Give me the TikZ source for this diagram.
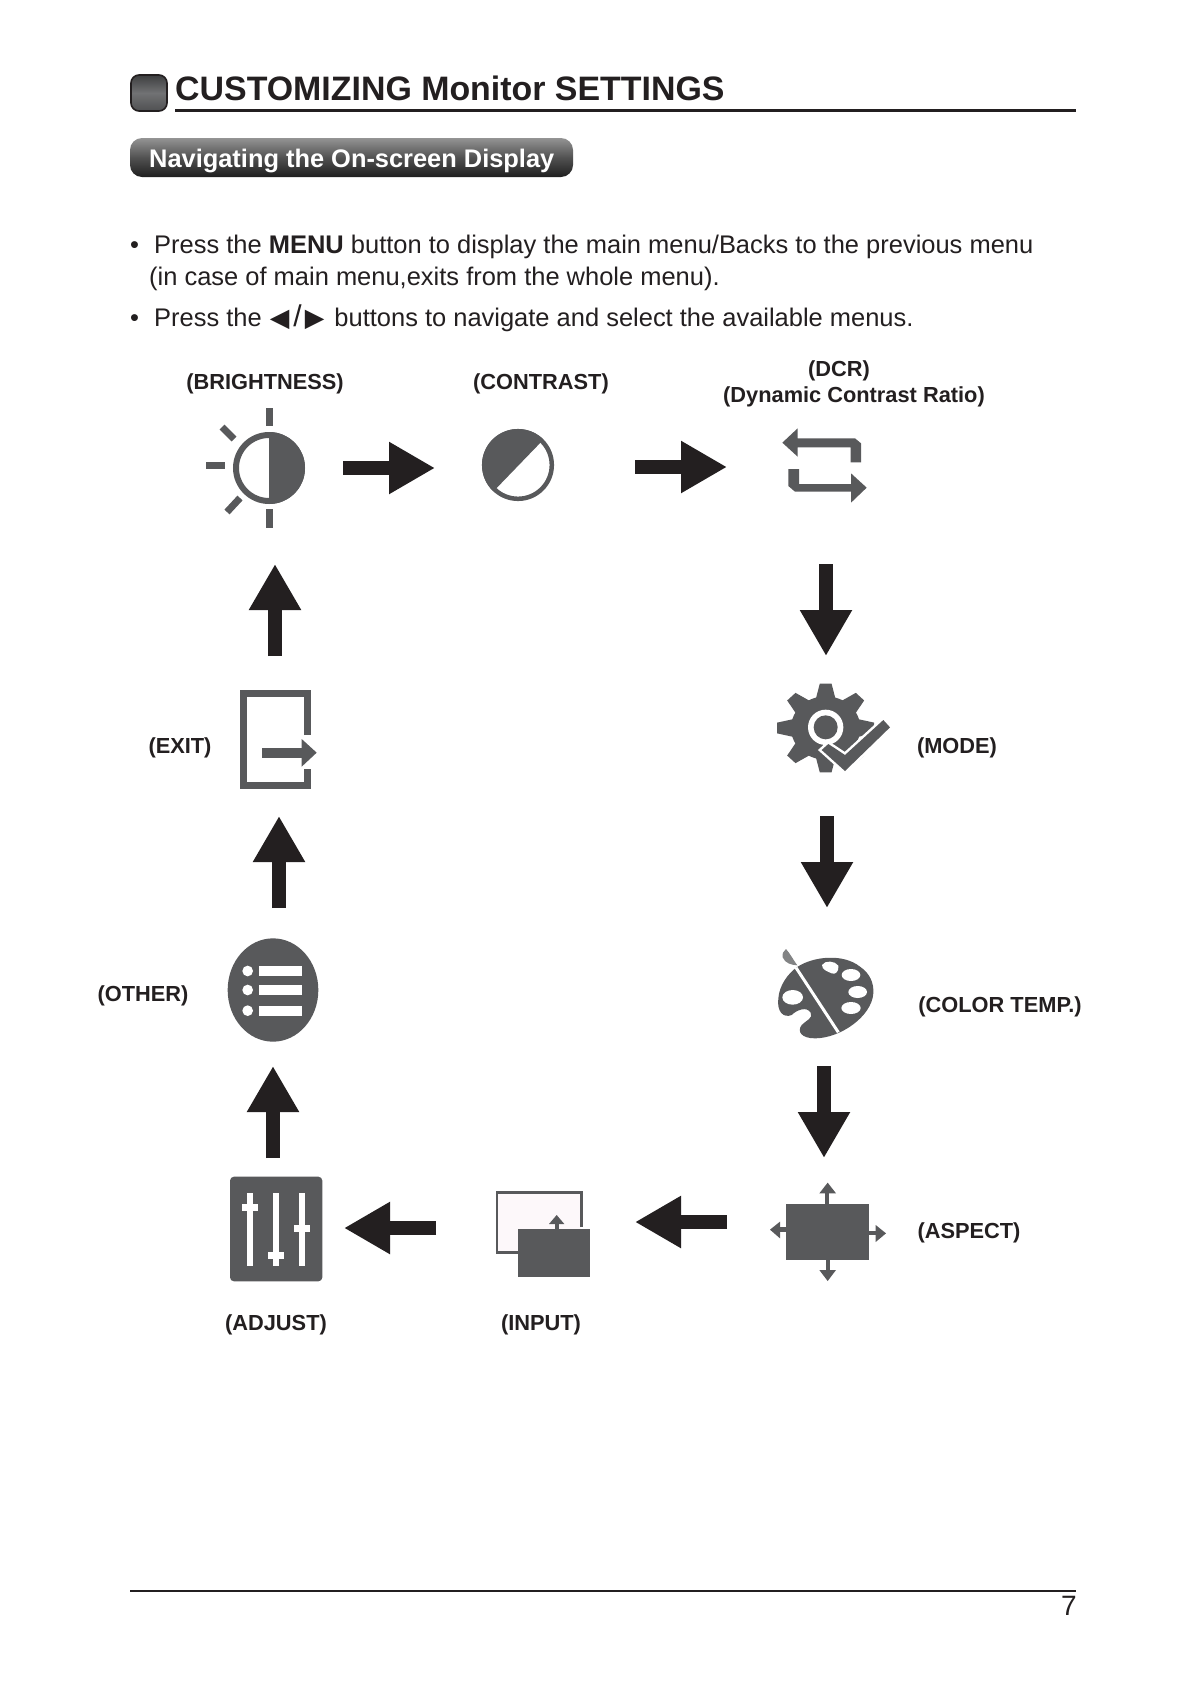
\documentclass[tikz,border=0pt]{standalone}
\usepackage{fontspec}
\setmainfont{Liberation Sans}
\newfontfamily\symfont{DejaVu Sans}
\usetikzlibrary{arrows.meta}
\definecolor{ink}{HTML}{231F20}
\definecolor{icon}{HTML}{58595B}
\definecolor{faint}{HTML}{FDF8FA}
\tikzset{
  blockarrow/.style={draw=ink,line width=14pt,-{Triangle[length=46pt,width=49pt]}},
  zoomed/.style 2 args={shift={(#1,#2)},scale=1/3},
  body/.style={anchor=base west,inner sep=0pt,text=ink,font=\fontsize{25.47}{30}\selectfont},
  lab/.style={inner sep=0pt,text=ink,font=\fontsize{21.8}{26}\selectfont\bfseries},
  iconfill/.style={fill=icon,draw=none},
  hole/.style={fill=white,draw=none}
}
\begin{document}
\begin{tikzpicture}[x=1pt,y=-1pt]
\useasboundingbox[fill=white] (0,0) rectangle (1190,1684);
% header
\draw[draw=ink,line width=1.6pt,rounded corners=8pt,top color=icon!70!black,bottom color=icon!90!black,middle color=icon!85!white] (131,75) rectangle (167,111);
\node[anchor=base west,inner sep=0pt,text=ink,font=\fontsize{33.9}{38}\selectfont\bfseries] (title) at (175,100) {CUSTOMIZING Monitor SETTINGS};
\coordinate (ruleA) at (175,110);
\coordinate (ruleB) at (1076,110);
\draw[ink,line width=3pt] (ruleA) -- (ruleB);
\shade[rounded corners=12pt,top color=black!42,bottom color=black!88,middle color=black!68] (130,138) rectangle (573,177);
\node[anchor=base west,inner sep=0pt,text=white,font=\fontsize{25.4}{28}\selectfont\bfseries] (sub) at (149,167) {Navigating the On-screen Display};
% body text
\node[body] (b1) at (130,253) {•};
\node[body] (t1) at (154,253) {Press the \textbf{MENU} button to display the main menu/Backs to the previous menu};
\node[body] (t2) at (149,285) {(in case of main menu,exits from the whole menu).};
\node[body] (b2) at (130,326) {•};
\node[body] (t3) at (154,326) {Press the \kern1pt{\symfont ◀}\kern4pt{\fontsize{30}{30}\selectfont/}\kern3pt{\symfont ▶}\kern3pt{} buttons to navigate and select the available menus.};
% labels
\node[lab] (lBright) at (265,384) {(BRIGHTNESS)};
\node[lab] (lContrast) at (541,384) {(CONTRAST)};
\node[lab] (lDcr) at (839,371) {(DCR)};
\node[lab] (lDyn) at (854,397) {(Dynamic Contrast Ratio)};
\node[lab] (lExit) at (180,748) {(EXIT)};
\node[lab] (lMode) at (957,748) {(MODE)};
\node[lab] (lOther) at (143,996) {(OTHER)};
\node[lab] (lColor) at (1000,1007) {(COLOR TEMP.)};
\node[lab] (lAspect) at (969,1233) {(ASPECT)};
\node[lab] (lAdjust) at (276,1325) {(ADJUST)};
\node[lab] (lInput) at (541,1325) {(INPUT)};
% block arrows
\coordinate (a1s) at (343,468); \coordinate (a1e) at (435,468);
\coordinate (a2s) at (635,467); \coordinate (a2e) at (727,467);
\coordinate (a3s) at (826,564); \coordinate (a3e) at (826,656);
\coordinate (a4s) at (827,816); \coordinate (a4e) at (827,908);
\coordinate (a5s) at (824,1066); \coordinate (a5e) at (824,1158);
\coordinate (a6s) at (727,1222); \coordinate (a6e) at (635,1222);
\coordinate (a7s) at (436,1228); \coordinate (a7e) at (344,1228);
\coordinate (a8s) at (273,1158); \coordinate (a8e) at (273,1066);
\coordinate (a9s) at (279,908); \coordinate (a9e) at (279,816);
\coordinate (a10s) at (275,656); \coordinate (a10e) at (275,564);
\foreach \n in {1,...,10} \draw[blockarrow] (a\n s) -- (a\n e);
% brightness
\draw[icon,line width=6pt] (269,468) circle (33);
\fill[icon] (269,432) arc (-90:90:36) -- cycle;
\fill[icon] (266,408) rectangle (273,426);
\fill[icon] (266,509) rectangle (273,528);
\fill[icon] (206,461.5) rectangle (225,468.5);
\draw[icon,line width=7pt] (222,427) -- (234,439);
\draw[icon,line width=7pt] (227,512) -- (240,498);
% contrast
\draw[icon,line width=4.5pt] (518,465) circle (33.8);
\fill[icon] (518,465) ++(133:36) arc (133:315:36) -- cycle;
% DCR
\begin{scope}[zoomed={760}{410}]
\fill[icon] (67,98) -- (113,55) -- (113,85) -- (285,85) -- (303,100) -- (303,157) -- (272,157) -- (272,112) -- (113,112) -- (113,140) -- cycle;
\fill[icon] (85,177) -- (117,177) -- (117,222) -- (273,222) -- (273,190) -- (320,233) -- (273,278) -- (273,245) -- (105,245) -- (85,228) -- cycle;
\end{scope}
% mode
\begin{scope}[zoomed={760}{670}]
\begin{scope}[shift={(197,174)},xscale=1.04,yscale=.95]
\fill[icon] (0,0) circle (100);
\foreach \a in {0,45,...,315}
  \fill[icon,rotate=\a] (85,-30) -- (140,-17) -- (140,17) -- (85,30) -- cycle;
\end{scope}
\fill[hole] (197,172) circle (53);
\fill[icon] (197,172) circle (36);
\draw[white,line width=5pt,line join=miter] (185,240) -- (205,222) -- (255,255) -- (370,150) -- (390,172) -- (255,303) -- cycle;
\fill[icon] (185,240) -- (205,222) -- (255,255) -- (370,150) -- (390,172) -- (255,303) -- cycle;
\end{scope}
% colour temp
\begin{scope}[zoomed={760}{930}]
\fill[icon] (110,112) .. controls (160,78) and (250,70) .. (300,110) .. controls (330,130) and (342,160) .. (340,190) .. controls (335,260) and (240,325) .. (165,325) .. controls (125,325) and (110,305) .. (125,285) .. controls (140,270) and (160,265) .. (152,248) .. controls (140,228) and (110,240) .. (95,255) .. controls (70,265) and (50,245) .. (55,205) .. controls (58,165) and (85,130) .. (110,112) -- cycle;
\fill[icon!75!white] (78,57) .. controls (90,70) and (100,90) .. (112,106) .. controls (95,105) and (75,100) .. (68,82) .. controls (66,72) and (70,62) .. (78,57) -- cycle;
\draw[white,line width=3pt] (108,113) -- (235,307);
\fill[hole] (186,105) .. controls (195,90) and (225,92) .. (235,107) .. controls (238,125) and (225,135) .. (215,130) .. controls (205,125) and (185,120) .. (186,105) -- cycle;
\fill[hole] (273,135) ellipse (28 and 18);
\fill[hole] (293,186) ellipse (28 and 18);
\fill[hole] (273,234) ellipse (29 and 18);
\fill[hole] (98,202) ellipse (31 and 22);
\end{scope}
% aspect
\begin{scope}[zoomed={760}{1170}]
\fill[icon] (78,102) rectangle (327,269);
\fill[icon] (195,102) rectangle (208,70);
\fill[icon] (178,70) -- (203,38) -- (228,70) -- cycle;
\fill[icon] (60,172) rectangle (78,185);
\fill[icon] (60,155) -- (30,179) -- (60,205) -- cycle;
\fill[icon] (327,182) rectangle (347,195);
\fill[icon] (347,165) -- (378,190) -- (347,216) -- cycle;
\fill[icon] (197,269) rectangle (211,300);
\fill[icon] (178,300) -- (203,333) -- (228,300) -- cycle;
\end{scope}
% input + adjust
\begin{scope}[zoomed={220}{1170}]
\fill[icon,rounded corners=4pt] (30,20) rectangle (307,334);
\foreach \x in {80,158,236} \fill[white] (\x,68) rectangle (\x+19,288);
\fill[white] (66,102) rectangle (114,124);
\fill[white] (144,245) rectangle (192,267);
\fill[white] (222,164) rectangle (270,186);
\fill[faint] (831,67) rectangle (1084,248);
\draw[icon,line width=2.4pt] (893,248) -- (831,248) -- (831,67) -- (1084,67) -- (1084,172);
\fill[icon] (893,177) rectangle (1110,320);
\fill[icon] (1004,177) rectangle (1017,160);
\fill[icon] (987,162) -- (1010,135) -- (1033,162) -- cycle;
\end{scope}
% other
\begin{scope}[zoomed={215}{930}]
\fill[icon] (174,180) ellipse (136 and 155);
\foreach \y in {123,180,242} \fill[white] (98,\y) circle (16);
\fill[white] (132,108) rectangle (261,138);
\fill[white] (132,164) rectangle (261,195);
\fill[white] (132,227) rectangle (261,258);
\end{scope}
% exit
\begin{scope}[zoomed={220}{680}]
\draw[icon,line width=7pt] (262,165) -- (262,40) -- (70,40) -- (70,316) -- (262,316) -- (262,268);
\fill[icon] (125,204) rectangle (245,233);
\fill[icon] (245,177) -- (290,218) -- (245,260) -- cycle;
\end{scope}
% footer
\coordinate (footA) at (130,1591);
\coordinate (footB) at (1076,1591);
\draw[ink,line width=1.5pt] (footA) -- (footB);
\node[inner sep=0pt,text=ink,font=\fontsize{28}{32}\selectfont] (page) at (1069,1606) {7};
\end{tikzpicture}
\end{document}
